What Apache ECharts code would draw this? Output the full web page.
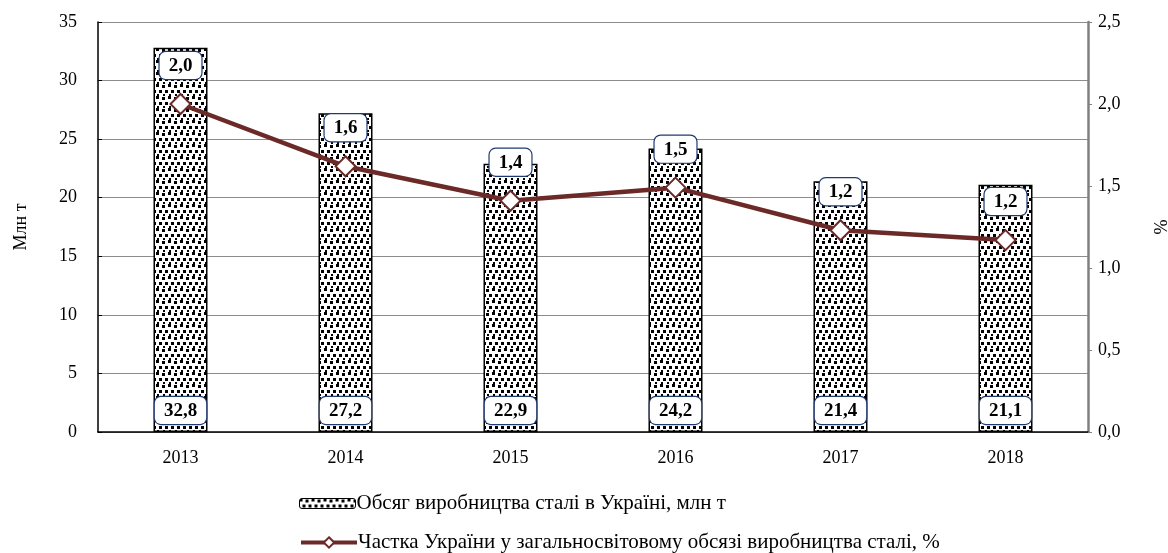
<!DOCTYPE html>
<html>
<head>
<meta charset="utf-8">
<script src="https://cdn.jsdelivr.net/npm/echarts@6/dist/echarts.min.js"></script>
<style>
	html, body { margin: 0; padding: 0; background: #fff; }
	#chart { width: 1168px; height: 553px; }
</style>
</head>
<body>
<div id="chart"></div>
<script>
	// роки
	var years = ['2013', '2014', '2015', '2016', '2017', '2018'];
	// обсяг виробництва сталі, млн т
	var steelVolume = [32.8, 27.2, 22.9, 24.2, 21.4, 21.1];
	// частка України у світовому виробництві, %
	var worldShare = [2.0, 1.62, 1.41, 1.49, 1.23, 1.17];
	var leftTicks = [0, 5, 10, 15, 20, 25, 30, 35];
	var rightTicks = [0, 0.5, 1.0, 1.5, 2.0, 2.5];

	var barName = 'Обсяг виробництва сталі в Україні, млн т';
	var lineName = 'Частка України у загальносвітовому обсязі виробництва сталі, %';

	// візерунок з чорних квадратиків
	function makePattern() {
		var c = document.createElement('canvas');
		c.width = 12;
		c.height = 12;
		var ctx = c.getContext('2d');
		ctx.fillStyle = '#fff';
		ctx.fillRect(0, 0, 12, 12);
		ctx.fillStyle = '#000';
		ctx.fillRect(0, 0, 3, 3);
		ctx.fillRect(6, 1, 3, 3);
		ctx.fillRect(3, 6, 3, 3);
		ctx.fillRect(9, 6, 3, 3);
		ctx.fillRect(1, 10, 2, 2);
		ctx.fillRect(7, 10, 2, 2);
		return c;
	}

	function comma(v, d) {
		return v.toFixed(d).replace('.', ',');
	}

	var labelBox = {
		show: true,
		fontFamily: 'Liberation Serif',
		fontSize: 19,
		fontWeight: 'bold',
		lineHeight: 20,
		color: '#000',
		backgroundColor: '#fff',
		borderColor: '#1f3a70',
		borderWidth: 1.2,
		borderRadius: 6,
		padding: [4, 9, 3, 9]
	};

	var myChart = echarts.init(document.getElementById('chart'));
	myChart.setOption({
		animation: false,
		textStyle: { fontFamily: 'Liberation Serif' },
		grid: {
			left: 98,
			right: 80,
			top: 22,
			bottom: 121,
			outerBoundsMode: 'none'
		},
		legend: [{
			data: [barName],
			left: 294,
			top: 488,
			itemWidth: 56,
			itemHeight: 10,
			itemGap: 0,
			itemStyle: { borderWidth: 1, borderColor: '#000' },
			textStyle: { fontFamily: 'Liberation Serif', fontSize: 21, color: '#000', padding: [0, 0, 0, -4] }
		}, {
			data: [lineName],
			left: 294,
			top: 527,
			itemWidth: 56,
			itemHeight: 13,
			lineStyle: { width: 4, color: '#6b2a27' },
			itemStyle: { color: '#fff', borderColor: '#6b2a27', borderWidth: 2 },
			textStyle: { fontFamily: 'Liberation Serif', fontSize: 21, color: '#000', padding: [0, 0, 0, -4] }
		}],
		xAxis: [{
			type: 'category',
			data: years,
			axisLine: { lineStyle: { color: '#000', width: 1.5 } },
			axisTick: { show: false },
			axisLabel: { fontFamily: 'Liberation Serif', fontSize: 18, color: '#000', margin: 17 }
		}],
		yAxis: [{
			type: 'value',
			name: 'Млн т',
			nameLocation: 'middle',
			nameGap: 68,
			nameTextStyle: { fontFamily: 'Liberation Serif', fontSize: 18, color: '#000' },
			min: leftTicks[0],
			max: leftTicks[leftTicks.length - 1],
			interval: 5,
			axisLine: { show: true, lineStyle: { color: '#000', width: 1.5 } },
			axisTick: { show: true, inside: true, length: 4, lineStyle: { color: '#000' } },
			axisLabel: { fontFamily: 'Liberation Serif', fontSize: 18, color: '#000', margin: 21 },
			splitLine: { show: true, lineStyle: { color: '#8c8c8c', width: 1 } }
		}, {
			type: 'value',
			name: '%',
			nameLocation: 'middle',
			nameGap: 62,
			nameRotate: -90,
			nameTextStyle: { fontFamily: 'Liberation Serif', fontSize: 18, color: '#000' },
			min: rightTicks[0],
			max: rightTicks[rightTicks.length - 1],
			interval: 0.5,
			axisLine: { show: true, lineStyle: { color: '#808080', width: 2.5 } },
			axisTick: { show: true, length: 4, lineStyle: { color: '#808080' } },
			axisLabel: {
				fontFamily: 'Liberation Serif', fontSize: 18, color: '#000', margin: 10,
				formatter: function (v) { return comma(v, 1); }
			},
			splitLine: { show: false }
		}],
		series: [{
			name: barName,
			type: 'bar',
			data: steelVolume,
			barWidth: 54,
			itemStyle: {
				color: { image: makePattern(), repeat: 'repeat' },
				borderColor: '#000',
				borderWidth: 1.5
			},
			label: Object.assign({}, labelBox, {
				position: 'insideBottom',
				distance: 8,
				formatter: function (p) { return comma(p.value, 1); }
			})
		}, {
			name: lineName,
			type: 'line',
			yAxisIndex: 1,
			data: worldShare,
			symbol: 'diamond',
			symbolSize: 20,
			lineStyle: { color: '#6b2a27', width: 4.5 },
			itemStyle: { color: '#fff', borderColor: '#6b2a27', borderWidth: 2 },
			label: Object.assign({}, labelBox, {
				position: 'top',
				distance: 14,
				formatter: function (p) { return comma(p.value, 1); }
			}),
			z: 3
		}]
	});
</script>
</body>
</html>
